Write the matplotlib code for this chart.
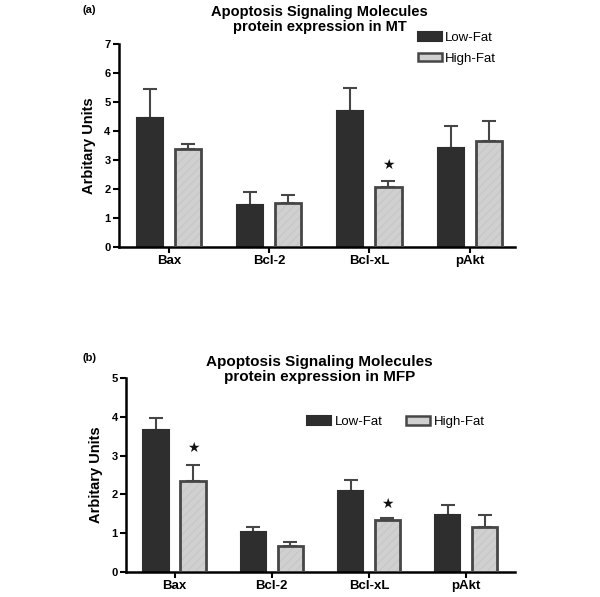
import matplotlib
matplotlib.use("Agg")
import matplotlib.pyplot as plt
import numpy as np
from matplotlib.patches import Patch

categories = ["Bax", "Bcl-2", "Bcl-xL", "pAkt"]
series = ["Low-Fat", "High-Fat"]

mt_low = [4.46, 1.46, 4.69, 3.43]
mt_low_err = [1.01, 0.45, 0.79, 0.75]
mt_high = [3.37, 1.52, 2.06, 3.66]
mt_high_err = [0.18, 0.29, 0.22, 0.70]
mt_star = [None, None, 2.83, None]

mfp_low = [3.66, 1.03, 2.09, 1.46]
mfp_low_err = [0.30, 0.14, 0.28, 0.26]
mfp_high = [2.35, 0.66, 1.34, 1.16]
mfp_high_err = [0.41, 0.12, 0.06, 0.30]
mfp_star = [3.2, None, 1.75, None]

DARK = "#2e2e2e"
LIGHT = "#d0d0d0"
EDGE = "#464646"

plt.rcParams["font.family"] = ["Liberation Sans", "DejaVu Sans"]

fig = plt.figure(figsize=(6.0, 5.97), dpi=100)


def panel(rect, low, low_err, high, high_err, stars, ymax, xlim):
    ax = fig.add_axes(rect)
    x = np.arange(len(categories))
    w = 0.26
    off = 0.19
    ax.bar(x - off, low, w, color=DARK, edgecolor=DARK, linewidth=1.5, zorder=2)
    ax.bar(x + off, high, w, color=LIGHT, edgecolor="#c8c8c8", hatch="////",
           linewidth=0, zorder=2)
    ax.bar(x + off, high, w, color="none", edgecolor=EDGE, linewidth=2, zorder=3)
    ax.errorbar(x - off, low, yerr=[np.zeros(len(low)), low_err], fmt="none",
                ecolor=EDGE, elinewidth=1.5, capsize=4.8, capthick=1.5, zorder=1)
    ax.errorbar(x + off, high, yerr=[np.zeros(len(high)), high_err], fmt="none",
                ecolor=EDGE, elinewidth=1.5, capsize=4.8, capthick=1.5, zorder=1)
    for xi, s in zip(x, stars):
        if s is not None:
            ax.text(xi + off, s, "\u2605", ha="center", va="center", fontsize=10,
                    family=["DejaVu Sans"], color="#111111")
    ax.set_xlim(*xlim)
    ax.set_ylim(0, ymax)
    ax.set_yticks(range(0, ymax + 1))
    ax.set_xticks(x)
    ax.set_xticklabels(categories, fontsize=9.5, fontweight="bold")
    for lab in ax.get_yticklabels():
        lab.set_fontweight("bold")
        lab.set_fontsize(8)
    ax.spines["top"].set_visible(False)
    ax.spines["right"].set_visible(False)
    ax.spines["left"].set_linewidth(1.8)
    ax.spines["bottom"].set_linewidth(1.8)
    ax.tick_params(axis="both", direction="out", length=4, width=1.5, pad=2)
    ax.set_ylabel("Arbitary Units", fontsize=10.5, fontweight="bold", labelpad=6)
    return ax


ax1 = panel([0.198, 0.586, 0.660, 0.340], mt_low, mt_low_err, mt_high, mt_high_err,
            mt_star, 7, (-0.5, 3.45))
ax2 = panel([0.210, 0.042, 0.648, 0.325], mfp_low, mfp_low_err, mfp_high, mfp_high_err,
            mfp_star, 5, (-0.5, 3.5))

handles = [Patch(facecolor=DARK, edgecolor=DARK, linewidth=1.5),
           Patch(facecolor=LIGHT, edgecolor=EDGE, linewidth=1.8)]

fig.legend(handles, series, loc="upper left", bbox_to_anchor=(0.688, 0.955),
           frameon=False, fontsize=9.5, handlelength=1.8, handleheight=0.6,
           handletextpad=0.2, labelspacing=0.65, borderaxespad=0)
fig.legend(handles, series, loc="upper left", bbox_to_anchor=(0.503, 0.312),
           frameon=False, fontsize=9.5, ncol=2, handlelength=1.8, handleheight=0.6,
           handletextpad=0.3, columnspacing=1.8, borderaxespad=0)

fig.text(0.533, 0.992, "Apoptosis Signaling Molecules\nprotein expression in MT",
         ha="center", va="top", fontsize=10.5, fontweight="bold", linespacing=1.1)
fig.text(0.533, 0.406, "Apoptosis Signaling Molecules\nprotein expression in MFP",
         ha="center", va="top", fontsize=11, fontweight="bold", linespacing=1.1)
fig.text(0.138, 0.992, "(a)", ha="left", va="top", fontsize=8, fontweight="bold")
fig.text(0.138, 0.408, "(b)", ha="left", va="top", fontsize=8, fontweight="bold")

fig.savefig("out.png", dpi=100)
